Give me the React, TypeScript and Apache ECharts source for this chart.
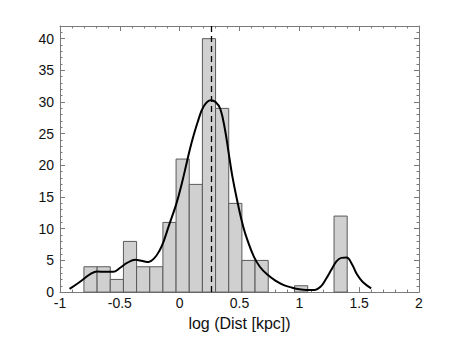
import React, { useEffect, useRef } from "react";
import * as echarts from "echarts";

const binStart = -0.8;
const binWidth = 0.11;
const binCounts = [4, 4, 2, 8, 4, 4, 11, 21, 17, 40, 29, 14, 5, 5, 0, 0, 1, 0, 0, 12];

const kdeX = [
  -0.92, -0.85, -0.8, -0.75, -0.69, -0.62, -0.556, -0.5, -0.44, -0.37, -0.31, -0.26, -0.21, -0.17,
  -0.136, -0.09, -0.03, 0.02, 0.06, 0.1, 0.15, 0.2, 0.26, 0.3, 0.34, 0.38, 0.41, 0.44, 0.48, 0.53,
  0.57, 0.62, 0.67, 0.73, 0.8, 0.87, 0.94, 1.0, 1.06, 1.13, 1.18, 1.22, 1.27, 1.31, 1.35, 1.395,
  1.44, 1.48, 1.53, 1.6,
];
const kdeY = [
  0.5, 1.4, 2.1, 2.8, 3.25, 3.2, 3.2, 3.8, 4.6, 5.1, 4.9, 4.75, 5.4, 6.5, 7.9, 10.5, 13.8, 17.3,
  20.5, 23.6, 26.8, 29.3, 30.3, 30.0, 28.9, 25.5, 21.9, 18.3, 14.5, 10.4, 8, 5.6, 4, 2.8, 1.8, 1.1,
  0.7, 0.45, 0.35, 0.35, 0.9, 2.0, 3.6, 4.85, 5.4, 5.45, 4.4, 2.85, 1.6, 0.6,
];

const medianX = 0.26;
const xTitle = "log (Dist [kpc])";

export default function App() {
  const ref = useRef<HTMLDivElement>(null);
  useEffect(() => {
    if (!ref.current) return;
    const chart = echarts.init(ref.current, null, { renderer: "svg" });
    const bins = binCounts.map((c, i) => [binStart + i * binWidth, binStart + (i + 1) * binWidth, c]);
    const frameColor = "#7a7a7a";
    const font = "Liberation Sans, Arial, sans-serif";
    const tickCommon = {
      axisLine: { show: true, onZero: false, lineStyle: { color: frameColor, width: 1 } },
      axisTick: { show: true, inside: true, length: 5, lineStyle: { color: frameColor } },
      minorTick: { show: true, splitNumber: 5, length: 2.5, lineStyle: { color: frameColor } },
      splitLine: { show: false },
    };
    chart.setOption({
      animation: false,
      grid: { left: 52, right: 36, top: 18, bottom: 30 },
      xAxis: [
        {
          type: "value",
          min: -1,
          max: 2,
          interval: 0.5,
          position: "bottom",
          ...tickCommon,
          axisLabel: { color: "#111", fontSize: 14, fontFamily: font, margin: 4 },
          name: xTitle,
          nameLocation: "middle",
          nameGap: 20,
          nameTextStyle: { color: "#111", fontSize: 16, fontFamily: font },
        },
        {
          type: "value",
          min: -1,
          max: 2,
          interval: 0.5,
          position: "top",
          ...tickCommon,
          axisLabel: { show: false },
        },
      ],
      yAxis: [
        {
          type: "value",
          min: 0,
          max: 42,
          interval: 5,
          position: "left",
          ...tickCommon,
          axisLabel: {
            color: "#111",
            fontSize: 14,
            fontFamily: font,
            margin: 6,
            formatter: (v: number) => (v % 5 === 0 ? String(v) : ""),
          },
        },
        {
          type: "value",
          min: 0,
          max: 42,
          interval: 5,
          position: "right",
          ...tickCommon,
          axisLabel: { show: false },
        },
      ],
      series: [
        {
          type: "custom",
          xAxisIndex: 0,
          yAxisIndex: 0,
          data: bins,
          encode: { x: [0, 1], y: 2 },
          renderItem: (params: any, api: any) => {
            const x0 = api.value(0);
            const x1 = api.value(1);
            const c = api.value(2);
            if (c <= 0) return null;
            const p0 = api.coord([x0, c]);
            const p1 = api.coord([x1, 0]);
            return {
              type: "rect",
              shape: { x: p0[0], y: p0[1], width: p1[0] - p0[0], height: p1[1] - p0[1] },
              style: { fill: "#d0d0d0", stroke: "#5a5a5a", lineWidth: 1 },
            };
          },
          z: 1,
        },
        {
          type: "line",
          xAxisIndex: 0,
          yAxisIndex: 0,
          data: kdeX.map((x, i) => [x, kdeY[i]]),
          smooth: 0.4,
          showSymbol: false,
          lineStyle: { color: "#000", width: 2 },
          z: 3,
          markLine: {
            silent: true,
            symbol: "none",
            label: { show: false },
            lineStyle: { color: "#000", type: [6, 4], width: 1.3 },
            data: [{ xAxis: medianX }],
          },
        },
      ],
    });
    return () => chart.dispose();
  }, []);
  return <div ref={ref} style={{ width: 447, height: 328 }} />;
}
